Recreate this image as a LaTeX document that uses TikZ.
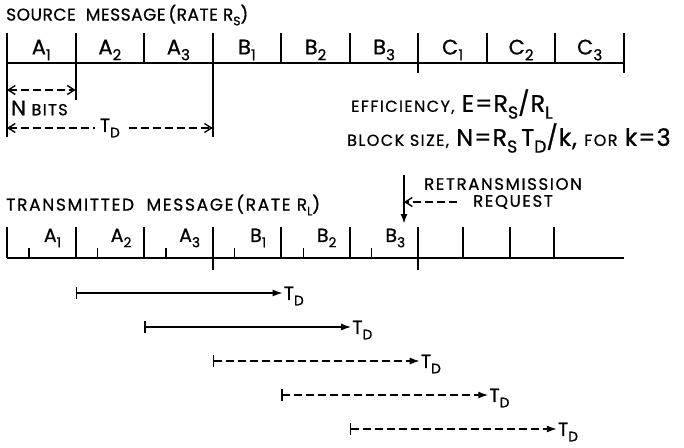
\documentclass[tikz,border=0pt]{standalone}
\usepackage{fontspec}
\setmainfont{Poppins}[FakeBold=0.8]
\usetikzlibrary{arrows.meta,positioning}
\newcommand\scl[1]{{\fontsize{16}{18}\selectfont\addfontfeature{LetterSpace=9}#1}}
\newcommand\sbs[1]{\raisebox{-0.28em}{\scalebox{0.72}{#1}}}
\tikzset{
  >={Latex[length=10pt,width=7pt]},
  head/.style={font=\fontsize{17}{20}\selectfont\addfontfeature{LetterSpace=3},inner sep=0pt,anchor=west},
  cell/.style={font=\fontsize{21}{24}\selectfont,inner sep=0pt},
  cellt/.style={font=\fontsize{19}{22}\selectfont,inner sep=0pt},
  formula/.style={font=\fontsize{24}{27}\selectfont\addfontfeature{LetterSpace=4},inner sep=0pt,anchor=west},
  note/.style={font=\fontsize{16.5}{19}\selectfont\addfontfeature{LetterSpace=10},inner sep=0pt},
  tdl/.style={font=\fontsize{19}{22}\selectfont,inner sep=1pt},
  tline/.style={line width=2pt},
  tick/.style={line width=2pt},
  dashd/.style={dash pattern=on 8pt off 4pt},
  dim/.style={{Straight Barb[length=7pt,width=9pt]}-{Straight Barb[length=7pt,width=9pt]},dash pattern=on 8pt off 4pt,line width=1.4pt},
  span/.style={{Bar[width=12pt]}->,line width=1.4pt},
}
\begin{document}
\begin{tikzpicture}[x=1pt,y=-1pt]
\useasboundingbox (0,0) rectangle (684,447);
% source message
\node[head] (srchead) at (6,15) {SOURCE\ \ MESSAGE\,(RATE\ R\sbs{S})};
\foreach \i in {0,...,9} \coordinate (s\i) at (7+68.55*\i,63);
\draw[tline] (s0) -- (s9);
\foreach \i in {0,...,9} \draw[tick] (s\i) -- ++(0,-30);
\draw[tick] (s0) -- ++(0,74);
\draw[tick] (s1) -- ++(0,37);
\draw[tick] (s3) -- ++(0,74);
\draw[tick] (s6) -- ++(0,10);
\draw[tick] (s9) -- ++(0,10);
\foreach \l/\s [count=\i from 0] in {A/1,A/2,A/3,B/1,B/2,B/3,C/1,C/2,C/3}
  \node[cell] (s\l\s) at (41.3+68.55*\i,50) {\l\sbs{\s}};
\coordinate (nb0) at (7,90);
\coordinate (nb1) at (75.6,90);
\draw[dim] (nb0) -- (nb1);
\node[formula,font=\fontsize{21}{24}\selectfont] (nbits) at (11,108) {N \scl{BITS}};
\coordinate (td0) at (7,128);
\coordinate (td1) at (212.7,128);
\draw[dim] (td0) -- node[cell,fill=white,inner xsep=5pt,font=\fontsize{19}{22}\selectfont] (tdmid) {T\sbs{D}} (td1);
% formulas
\node[formula] (eff) at (351,104) {\scl{EFFICIENCY,} E=R\sbs{S}/R\sbs{L}};
\node[formula] (blk) at (347,138) {\scl{BLOCK SIZE,} N=R\sbs{S}\,T\sbs{D}/k, \scl{FOR} k=3};
% transmitted message
\node[head,font=\fontsize{17}{20}\selectfont\addfontfeature{LetterSpace=10}] (txhead) at (6,205) {TRANSMITTED\ \ MESSAGE\,(RATE\ R\sbs{L})};
\foreach \i in {0,...,6} \coordinate (t\i) at (7+68.55*\i,258);
\coordinate (t7) at (463,258);
\coordinate (t8) at (510,258);
\coordinate (t9) at (554,258);
\coordinate (tend) at (624,258);
\draw[tline] (t0) -- (tend);
\foreach \i in {0,...,9} \draw[tick] (t\i) -- ++(0,-31);
\draw[tick] (t3) -- ++(0,12);
\draw[tick] (t6) -- ++(0,12);
\foreach \i in {0,...,5} \draw[line width=1.4pt] ([xshift=22pt]t\i) -- ++(0,-10);
\foreach \l/\s [count=\i from 0] in {A/1,A/2,A/3,B/1,B/2,B/3}
  \node[cellt] (t\l\s) at (52.5+68.55*\i,238) {\l\sbs{\s}};
% retransmission request
\coordinate (rq) at (404,175);
\coordinate (rqtip) at (404,224);
\draw[tick,->] (rq) -- (rqtip);
\node[note] (retx) at (503,184) {RETRANSMISSION};
\node[note] (req) at (513,202) {REQUEST};
\draw[dim,-{Straight Barb[length=7pt,width=9pt]}] ([xshift=-16pt]req.west) -- (req.west -| rq);
% delay spans
\foreach \i in {0,...,4} {
  \coordinate (b\i) at (75.6+68.55*\i,293+34*\i);
  \node[tdl,anchor=west] (bt\i) at (282.6+68.55*\i,296+34*\i) {T\sbs{D}};
}
\draw[span] (b0) -- (b0 -| bt0.west);
\draw[span] (b1) -- (b1 -| bt1.west);
\foreach \i in {2,3,4} \draw[span,dashd] (b\i) -- (b\i -| bt\i.west);
\end{tikzpicture}
\end{document}
